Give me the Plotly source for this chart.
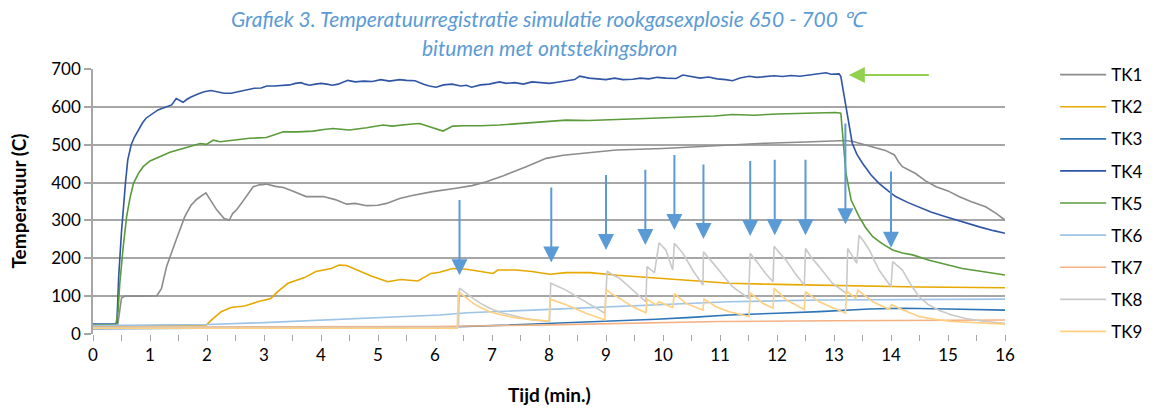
import plotly.graph_objects as go

# Time (min.) and temperature (C) per thermocouple
tk1_t = [0, 0.43, 0.5, 0.56, 0.8, 1.12, 1.2, 1.29, 1.45, 1.61, 1.72, 1.82, 1.98, 2.08, 2.17, 2.3, 2.39, 2.45,
         2.52, 2.65, 2.81, 2.92, 3.04, 3.2, 3.34, 3.5, 3.74, 4.04, 4.25, 4.45, 4.6, 4.8, 5.0, 5.15, 5.25, 5.38,
         5.6, 5.96, 6.37, 6.65, 6.9, 7.2, 7.6, 7.95, 8.25, 8.59, 9.18, 10.0, 10.64, 11.2, 11.81, 12.5, 13.21,
         13.35, 13.5, 13.68, 13.9, 14.06, 14.13, 14.2, 14.3, 14.43, 14.6, 14.79, 15.0, 15.19, 15.4, 15.66,
         15.85, 16]
tk1_v = [20, 20, 95, 100, 100, 101, 120, 178, 245, 310, 340, 356, 373, 350, 328, 305, 301, 318,
         328, 355, 389, 394, 396, 390, 387, 378, 363, 363, 355, 343, 345, 339, 340, 345, 350, 358,
         366, 376, 385, 392, 402, 418, 442, 464, 472, 477, 486, 490, 495, 500, 504, 507, 511,
         508, 502, 493, 485, 473, 455, 442, 435, 424, 405, 389, 378, 363, 350, 336,
         318, 301]

tk2_t = [0, 1.95, 1.99, 2.1, 2.25, 2.42, 2.66, 2.89, 3.12, 3.24, 3.42, 3.71, 3.91, 4.18, 4.32, 4.45, 4.53,
         4.7, 4.88, 5.17, 5.4, 5.7, 5.93, 6.08, 6.31, 6.55, 6.8, 7.02, 7.1, 7.42, 7.7, 8.01, 8.3, 8.71, 9.2,
         9.59, 10.2, 10.76, 11.16, 12.0, 12.74, 13.5, 14.5, 16]
tk2_v = [20, 22, 24, 40, 59, 70, 74, 85, 94, 112, 134, 149, 165, 173, 182, 181, 176,
         165, 153, 138, 144, 140, 160, 163, 173, 171, 165, 160, 169, 169, 165, 158, 162, 162, 155,
         151, 145, 138, 134, 131, 129, 126, 124, 122]

tk3_t = [0, 2, 4, 6.08, 7, 8.01, 9, 9.88, 10.5, 11.16, 12, 12.74, 13.62, 14.2, 15, 16]
tk3_v = [14, 15, 16, 18, 22, 28, 33, 39, 44, 50, 55, 59, 66, 68, 66, 63]

tk4_t = [0, 0.38, 0.42, 0.45, 0.5, 0.53, 0.57, 0.61, 0.67, 0.73, 0.8, 0.87, 0.93, 1.0, 1.07, 1.14, 1.22,
         1.31, 1.38, 1.46, 1.52, 1.58, 1.65, 1.72, 1.84, 1.95, 2.07, 2.2, 2.3, 2.42, 2.55, 2.7, 2.83, 2.95,
         3.05, 3.18, 3.3, 3.45, 3.55, 3.65, 3.72, 3.8, 3.9, 4.0, 4.1, 4.2, 4.3, 4.47, 4.6, 4.75, 4.9, 5.05,
         5.2, 5.38, 5.5, 5.65, 5.8, 5.9, 6.02, 6.15, 6.3, 6.45, 6.55, 6.64, 6.8, 6.95, 7.13, 7.25, 7.4, 7.55,
         7.7, 7.85, 8.01, 8.15, 8.3, 8.45, 8.54, 8.7, 8.85, 9.0, 9.15, 9.3, 9.47, 9.6, 9.75, 9.9, 10.05,
         10.23, 10.35, 10.5, 10.65, 10.8, 10.95, 11.1, 11.22, 11.35, 11.51, 11.65, 11.8, 11.95, 12.1, 12.25,
         12.4, 12.55, 12.7, 12.86, 12.95, 13.09, 13.12, 13.18, 13.24, 13.32, 13.4, 13.5, 13.65, 13.79,
         13.95, 14.08, 14.3, 14.49, 14.7, 14.96, 15.25, 15.55, 15.8, 16]
tk4_v = [26, 26, 30, 150, 270, 330, 400, 460, 500, 521, 540, 558, 570, 578, 586, 592, 596,
         600, 605, 622, 618, 612, 620, 626, 634, 640, 643, 640, 636, 636, 640, 644, 649, 650,
         655, 655, 656, 658, 662, 664, 660, 657, 660, 662, 660, 657, 660, 670, 666, 668, 667, 672,
         668, 672, 670, 669, 660, 655, 652, 658, 660, 655, 657, 652, 658, 660, 666, 662, 664, 660,
         666, 664, 662, 665, 668, 672, 681, 676, 674, 672, 676, 672, 673, 676, 674, 678, 676,
         675, 684, 680, 676, 679, 674, 672, 669, 676, 681, 678, 680, 682, 680, 683,
         681, 684, 685, 690, 686, 687, 680, 627, 565, 504, 475, 451, 420, 398,
         378, 363, 347, 336, 322, 310, 296, 283, 273, 266]

tk5_t = [0, 0.4, 0.44, 0.47, 0.53, 0.59, 0.65, 0.71, 0.8, 0.88, 1.0, 1.17, 1.35, 1.58, 1.75, 1.88, 1.99,
         2.11, 2.23, 2.4, 2.6, 2.75, 3.04, 3.2, 3.34, 3.6, 3.86, 4.05, 4.21, 4.35, 4.5, 4.8, 5.09, 5.25,
         5.38, 5.55, 5.73, 5.9, 6.05, 6.14, 6.22, 6.31, 6.5, 6.8, 7.13, 7.5, 7.9, 8.3, 8.7, 9.1, 9.5,
         10.05, 10.5, 10.9, 11.22, 11.6, 12.0, 12.4, 12.8, 13.03, 13.12, 13.16, 13.21, 13.3, 13.44, 13.55,
         13.68, 13.85, 14.03, 14.2, 14.38, 14.67, 14.95, 15.25, 15.6, 16]
tk5_v = [24, 24, 60, 134, 230, 310, 360, 398, 425, 442, 457, 468, 480, 490, 498, 503, 501,
         512, 508, 511, 515, 517, 519, 526, 534, 534, 536, 540, 543, 541, 539, 545, 552, 549,
         552, 554, 556, 548, 540, 536, 542, 549, 550, 550, 552, 556, 560, 565, 564, 566, 568,
         570, 573, 576, 580, 578, 581, 583, 585, 585, 583, 504, 424, 354, 310, 282,
         257, 238, 222, 214, 209, 195, 184, 173, 165, 156]

tk6_t = [0, 1, 2, 3, 4, 5.38, 6.08, 6.57, 7.5, 9, 10, 11.16, 12.74, 14, 16]
tk6_v = [22, 23, 25, 30, 37, 46, 50, 56, 62, 72, 79, 85, 90, 91, 92]

tk7_t = [0, 3, 6, 8, 10, 11, 13, 16]
tk7_v = [18, 19, 20, 24, 29, 33, 35, 37]

tk8_t = [0, 6.41, 6.43, 6.55, 6.67, 6.8, 6.96, 7.15, 7.37, 7.55, 7.72, 8.01, 8.03, 8.15, 8.3, 8.45, 8.59,
         8.78, 8.98, 9.02, 9.12, 9.24, 9.35, 9.47, 9.7, 9.72, 9.85, 9.93, 10.05, 10.17, 10.2, 10.35, 10.52,
         10.7, 10.71, 10.82, 10.93, 11.08, 11.22, 11.5, 11.53, 11.69, 11.8, 11.93, 11.95, 12.05, 12.16,
         12.32, 12.48, 12.5, 12.6, 12.74, 12.97, 13.22, 13.24, 13.4, 13.44, 13.53, 13.62, 13.79, 14.0,
         14.03, 14.2, 14.35, 14.49, 14.65, 14.84, 15.05, 15.31, 15.65, 16]
tk8_v = [17, 17, 121, 107, 94, 81, 68, 57, 48, 42, 37, 33, 134, 126, 116, 102, 90,
         72, 55, 166, 156, 147, 131, 116, 85, 178, 162, 241, 222, 169, 240, 213, 169,
         129, 217, 196, 178, 150, 125, 94, 213, 182, 160, 138, 232, 213, 195,
         160, 129, 226, 203, 178, 134, 107, 226, 187, 261, 243, 222, 169, 125,
         191, 169, 130, 99, 78, 63, 51, 41, 33, 28]

tk9_t = [0, 6.39, 6.41, 6.55, 6.67, 6.8, 6.96, 7.15, 7.37, 7.7, 8.0, 8.02, 8.15, 8.3, 8.65, 8.98, 9.0,
         9.1, 9.24, 9.47, 9.7, 9.72, 9.88, 9.93, 10.17, 10.2, 10.4, 10.7, 10.72, 10.93, 11.16, 11.51,
         11.53, 11.75, 11.93, 11.95, 12.16, 12.48, 12.5, 12.74, 13.2, 13.22, 13.38, 13.42, 13.68, 13.97,
         14.01, 14.14, 14.49, 14.8, 15.08, 15.5, 16]
tk9_v = [15, 15, 112, 95, 81, 70, 59, 51, 44, 38, 34, 92, 85, 77, 55, 37, 118,
         106, 94, 72, 56, 92, 77, 85, 70, 107, 81, 63, 92, 72, 59, 46,
         109, 81, 68, 121, 90, 65, 112, 85, 55, 114, 94, 116, 85, 65,
         78, 68, 46, 38, 33, 29, 26]

series = [
    ("TK1", tk1_t, tk1_v, "#8C8C8C"),
    ("TK2", tk2_t, tk2_v, "#E7A800"),
    ("TK3", tk3_t, tk3_v, "#2E75B6"),
    ("TK4", tk4_t, tk4_v, "#2F55A4"),
    ("TK5", tk5_t, tk5_v, "#5A9B3A"),
    ("TK6", tk6_t, tk6_v, "#9DC3E6"),
    ("TK7", tk7_t, tk7_v, "#F4B183"),
    ("TK8", tk8_t, tk8_v, "#C9C9C9"),
    ("TK9", tk9_t, tk9_v, "#FFCF80"),
]

# Ignition moments: (time, arrow top temperature, arrow tip temperature)
ignitions = [
    (6.43, 358, 144), (8.04, 391, 178), (9.0, 424, 211), (9.69, 438, 224),
    (10.2, 477, 264), (10.71, 452, 240), (11.53, 461, 248), (11.96, 464, 250),
    (12.5, 464, 250), (13.2, 560, 279), (14.0, 433, 217),
]
# Burner switched off: (arrow tail time, arrow tip time, temperature)
burner_off = (14.69, 13.19, 684)

FONT = "Lato"
GRID = "#A6A6A6"

fig = go.Figure()
for name, t, v, color in series:
    fig.add_trace(go.Scatter(
        x=t, y=v, mode="lines", name=name, legendgroup=name,
        line=dict(color=color, width=1.6),
    ))

annotations = []
# the arrowhead tip sticks out a few px past the anchor point, so anchor slightly above it
for t, top, tip in ignitions:
    annotations.append(dict(
        x=t, y=tip + 11, ax=t, ay=top, xref="x", yref="y", axref="x", ayref="y",
        showarrow=True, arrowhead=2, arrowsize=1.6, arrowwidth=2,
        arrowcolor="#5B9BD5", standoff=0, text="",
    ))
tail_t, tip_t, temp = burner_off
annotations.append(dict(
    x=tip_t + 0.07, y=temp, ax=tail_t, ay=temp, xref="x", yref="y", axref="x", ayref="y",
    showarrow=True, arrowhead=2, arrowsize=1.6, arrowwidth=2,
    arrowcolor="#92D050", standoff=0, text="",
))

title_font = dict(family=FONT, size=21, color="#5B9BD5")
axis_title_font = dict(family=FONT, size=19, color="#000000")
annotations += [
    dict(text="<i>Grafiek 3. Temperatuurregistratie simulatie rookgasexplosie 650 - 700 ℃</i>",
         x=0.5, y=1.192, xref="paper", yref="paper", showarrow=False,
         xanchor="center", yanchor="middle", font=title_font),
    dict(text="<i>bitumen met ontstekingsbron</i>",
         x=0.5, y=1.083, xref="paper", yref="paper", showarrow=False,
         xanchor="center", yanchor="middle", font=title_font),
    dict(text="<b>Temperatuur (C)</b>", textangle=-90,
         x=-0.0822, y=0.5, xref="paper", yref="paper", showarrow=False,
         xanchor="center", yanchor="middle", font=axis_title_font),
    dict(text="<b>Tijd (min.)</b>",
         x=0.5, y=-0.23, xref="paper", yref="paper", showarrow=False,
         xanchor="center", yanchor="middle", font=axis_title_font),
]

fig.update_layout(
    width=1162, height=408,
    margin=dict(l=93, r=157, t=69, b=74),
    paper_bgcolor="white", plot_bgcolor="white",
    font=dict(family=FONT, size=17, color="#000000"),
    showlegend=True,
    legend=dict(
        x=1.055, y=1.045, xanchor="left", yanchor="top",
        font=dict(family=FONT, size=17, color="#000000"),
        tracegroupgap=7, itemwidth=46, maxheight=400,
        bgcolor="rgba(0,0,0,0)",
    ),
    annotations=annotations,
)
fig.update_xaxes(
    range=[0, 16], dtick=1, tick0=0, showgrid=False, zeroline=False,
    showline=False, ticks="outside", ticklen=6, tickcolor=GRID, tickwidth=1,
    minor=dict(dtick=0.5, ticks="outside", ticklen=6, tickcolor=GRID, showgrid=False),
    tickfont=dict(family=FONT, size=17, color="#000000"),
)
fig.update_yaxes(
    range=[0, 700], dtick=100, tick0=0, showgrid=True, gridcolor=GRID, gridwidth=1.5,
    zeroline=False, showline=True, linecolor=GRID, linewidth=1.5,
    ticks="outside", ticklen=7, tickcolor=GRID, tickwidth=1.5,
    tickfont=dict(family=FONT, size=17, color="#000000"),
)

fig.write_html("out.html")
